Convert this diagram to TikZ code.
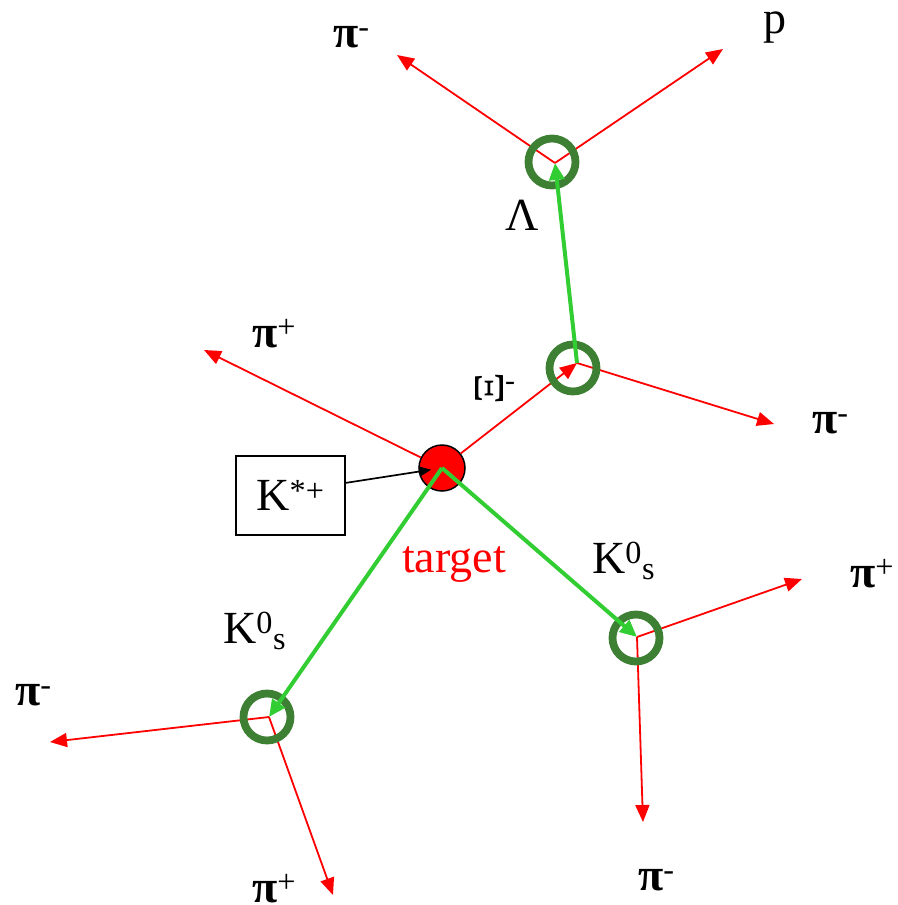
\documentclass[tikz,border=0pt]{standalone}
\usepackage{fontspec}
\setmainfont{Liberation Serif}
\usetikzlibrary{arrows.meta}
\definecolor{ringgreen}{RGB}{61,128,51}
\definecolor{trackgreen}{RGB}{50,205,50}
\begin{document}
\begin{tikzpicture}[x=1pt,y=-1pt,
  lbl/.style={anchor=base west, inner sep=0pt, font=\fontsize{46}{50}\selectfont},
  redtrack/.style={draw=red, line width=1.8pt, -{Triangle[length=17pt,width=14pt]}},
  greentrack/.style={draw=trackgreen, line width=4pt, -{Triangle[length=17pt,width=15pt]}},
  blackarrow/.style={draw=black, line width=1.7pt, -{Triangle[length=12pt,width=10pt]}},
  ring/.style={circle, draw=ringgreen, line width=7.8pt, minimum size=47pt, inner sep=0pt},
  targetdot/.style={circle, draw=black, fill=red, line width=1.5pt, minimum size=46pt, inner sep=0pt},
  labelbox/.style={draw=black, line width=1.5pt, minimum width=109pt, minimum height=79pt, inner sep=0pt, font=\fontsize{46}{50}\selectfont}
]
\useasboundingbox (0,0) rectangle (897,905);

% vertices
\coordinate (vL) at (555,163);
\coordinate (vX) at (577,363);
\coordinate (vA) at (269,717);
\coordinate (vB) at (637,637);

% track ends
\coordinate (eLpi) at (397,55);
\coordinate (eLp) at (723,49);
\coordinate (eXpi) at (774,424);
\coordinate (eTpi) at (204,350);
\coordinate (eApim) at (50,742);
\coordinate (eApip) at (333,895);
\coordinate (eBpip) at (802,579);
\coordinate (eBpim) at (643,822);

% target
\node[targetdot] (target) at (442,468) {};

% red tracks
\draw[redtrack] (vL) -- (eLpi);
\draw[redtrack] (vL) -- (eLp);
\draw[redtrack] (vX) -- (eXpi);
\draw[redtrack] (target) -- (vX);
\draw[redtrack] (target) -- (eTpi);
\draw[redtrack] (vA) -- (eApim);
\draw[redtrack] (vA) -- (eApip);
\draw[redtrack] (vB) -- (eBpip);
\draw[redtrack] (vB) -- (eBpim);

% rings
\node[ring] (rL) at (552,162) {};
\node[ring] (rX) at (573,368) {};
\node[ring] (rA) at (267,717) {};
\node[ring] (rB) at (636,638) {};

% green tracks
\draw[greentrack] (vX) -- (vL);
\draw[greentrack] (target.center) -- (vA);
\draw[greentrack] (target.center) -- (vB);

% K*+ box and arrow
\node[labelbox] (kbox) at (290.5,495.5) {K\textsuperscript{*+}};
\coordinate (kstart) at (345,483);
\draw[blackarrow, shorten >=11pt] (kstart) -- (target.center);

% labels
\node[lbl] (l1) at (333,47) {{\bfseries π}\textsuperscript{-}};
\node[lbl] (l2) at (763,33) {p};
\node[lbl] (l3) at (505,230) {Λ};
\node[lbl] (l4) at (252,347) {{\bfseries π}\textsuperscript{+}};
\node[lbl] (l5) at (475,404) {\resizebox{28pt}{32pt}{\rotatebox{90}{Ξ}}\kern2pt\raisebox{14pt}{\fontsize{30}{30}\selectfont -}};
\node[lbl] (l6) at (812,433) {{\bfseries π}\textsuperscript{-}};
\node[lbl, text=red] (l7) at (402,572) {target};
\node[lbl] (l8) at (592,573) {K\textsuperscript{0}\textsubscript{s}};
\node[lbl] (l9) at (850,587) {{\bfseries π}\textsuperscript{+}};
\node[lbl] (l10) at (638,890) {{\bfseries π}\textsuperscript{-}};
\node[lbl] (l11) at (223,643) {K\textsuperscript{0}\textsubscript{s}};
\node[lbl] (l12) at (15,705) {{\bfseries π}\textsuperscript{-}};
\node[lbl] (l13) at (252,902) {{\bfseries π}\textsuperscript{+}};
\end{tikzpicture}
\end{document}
